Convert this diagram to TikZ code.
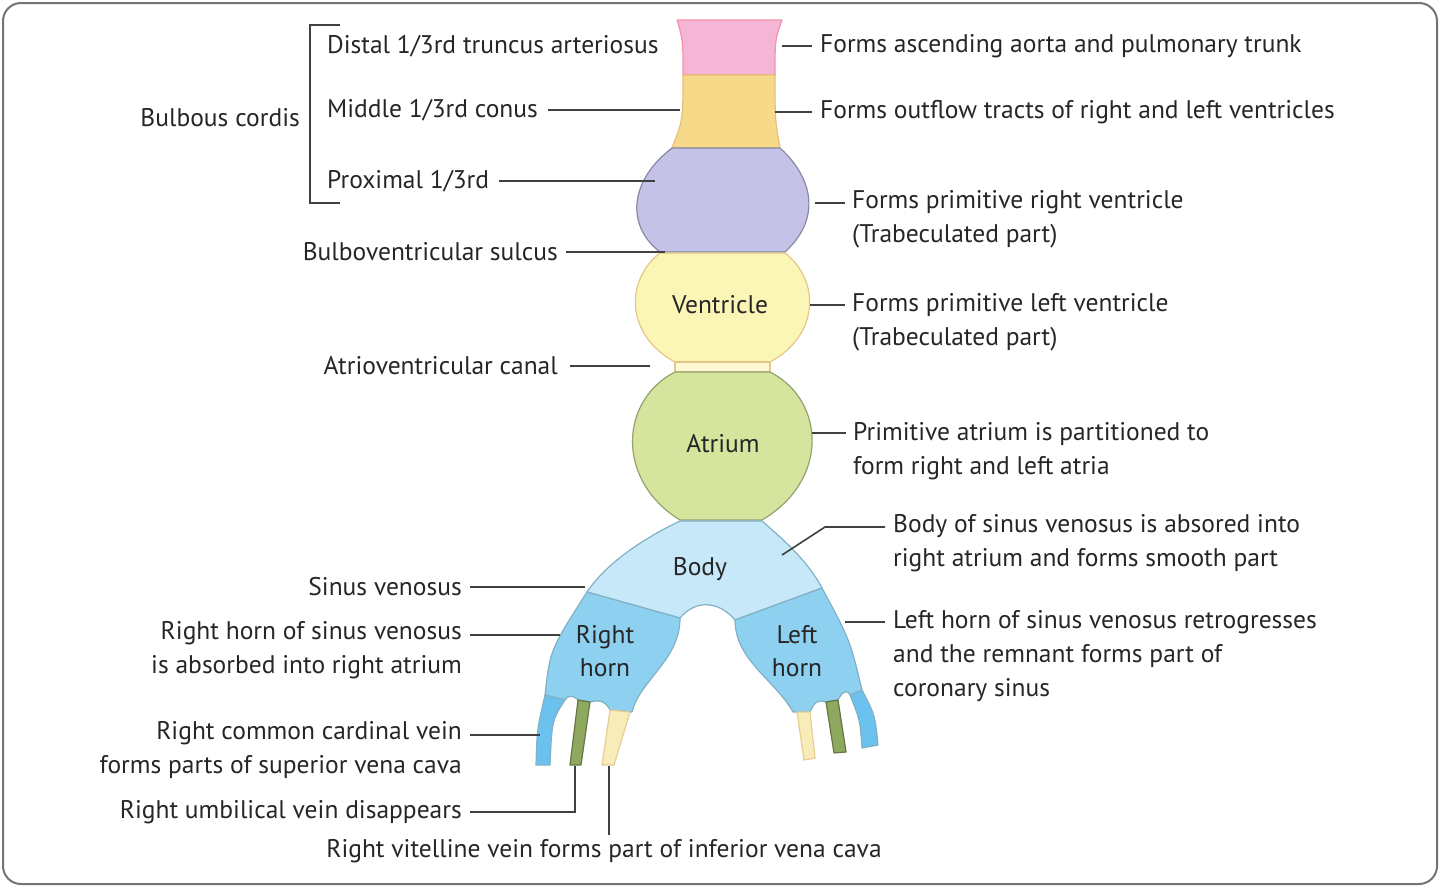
\documentclass[tikz,border=0pt]{standalone}
\usepackage{fontspec}
\setmainfont{PT Sans}
\definecolor{cpink}{HTML}{F5B5D5}
\definecolor{cyel}{HTML}{F6DA8A}
\definecolor{cpur}{HTML}{C5C2E8}
\definecolor{cven}{HTML}{FCF6B6}
\definecolor{catr}{HTML}{D5E59E}
\definecolor{cbody}{HTML}{C6E8F8}
\definecolor{chorn}{HTML}{8ED0F0}
\definecolor{chorn2}{HTML}{6CC2EE}
\definecolor{cgrn}{HTML}{8FA860}
\definecolor{cvit}{HTML}{F8EDB8}
\begin{document}
\begin{tikzpicture}[x=1pt,y=-1pt,
 lbl/.style={font=\fontsize{25.5}{34}\selectfont,inner sep=0pt,text=black!85},
 ld/.style={draw=black!75,line width=1.6pt},
 sh/.style={line width=1.2pt,line join=round}]
\useasboundingbox (0,0) rectangle (1440,887);
\draw[black!55,line width=2pt,rounded corners=18pt] (3,3) rectangle (1437,884);
% truncus
\draw[sh,draw=cpink!80!red,fill=cpink] (677,20)--(782,20) .. controls (775,40) .. (775,75) -- (683,75) .. controls (683,40) .. (677,20)--cycle;
\draw[sh,draw=cyel!70!brown,fill=cyel] (683,75)--(775,75) .. controls (775,120) .. (780,148) -- (672,148) .. controls (683,120) .. (683,75)--cycle;
\draw[sh,draw=cpur!70!black,fill=cpur] (672,148)--(780,148) .. controls (815,180) and (820,220) .. (785,252) -- (660,252) .. controls (625,225) and (630,180) .. (672,148)--cycle;
\draw[sh,draw=cven!60!brown,fill=cven] (660,253)--(785,253) .. controls (820,280) and (820,335) .. (770,362) -- (675,362) .. controls (625,335) and (625,280) .. (660,253)--cycle;
\draw[sh,draw=cven!60!brown,fill=cven!60] (675,362) rectangle (770,372);
\draw[sh,draw=catr!70!black,fill=catr] (675,372)--(770,372) .. controls (825,400) and (830,480) .. (762,520) -- (680,520) .. controls (615,480) and (620,400) .. (675,372)--cycle;
% body
\draw[sh,draw=cyan!60!black!60,fill=cbody] (680,521)--(762,521) .. controls (790,545) and (810,565) .. (822,588) -- (735,620) .. controls (718,600) and (695,600) .. (680,618) -- (587,592) .. controls (605,565) and (640,540) .. (680,521)--cycle;
% right horn
\draw[sh,draw=cyan!60!black!60,fill=chorn] (587,592)--(680,618) .. controls (680,660) and (640,680) .. (632,712) -- (610,710) .. controls (605,700) and (598,700) .. (590,702) -- (578,700) .. controls (573,695) and (568,695) .. (565,700) -- (545,695) .. controls (550,650) .. (587,592)--cycle;
\draw[sh,draw=cyan!60!black!60,fill=chorn2] (545,695)--(565,700) .. controls (552,720) .. (550,765) -- (536,765) .. controls (537,730) .. (545,695)--cycle;
\draw[sh,draw=cgrn!70!black,fill=cgrn] (578,700)--(590,702)--(581,765)--(570,765)--cycle;
\draw[sh,draw=cvit!70!brown,fill=cvit] (610,710)--(630,712)--(614,765)--(602,765)--cycle;
% left horn
\draw[sh,draw=cyan!60!black!60,fill=chorn] (822,588)--(735,620) .. controls (735,660) and (775,680) .. (793,712) -- (810,712) .. controls (815,700) and (820,700) .. (826,702) -- (838,700) .. controls (843,690) and (848,690) .. (850,695) -- (862,690) .. controls (850,640) .. (822,588)--cycle;
\draw[sh,draw=cyan!60!black!60,fill=chorn2] (850,695)--(862,690) .. controls (875,715) .. (878,745) -- (862,748) .. controls (860,720) .. (850,695)--cycle;
\draw[sh,draw=cgrn!70!black,fill=cgrn] (826,702)--(838,700)--(846,752)--(834,753)--cycle;
\draw[sh,draw=cvit!70!brown,fill=cvit] (797,712)--(810,712)--(815,758)--(804,760)--cycle;
% inner labels
\node[lbl] (ven) at (720,305) {Ventricle};
\node[lbl] (atr) at (723,444) {Atrium};
\node[lbl] (bod) at (700,569) {Body};
\node[lbl,align=center,font=\fontsize{25.5}{33}\selectfont] (rh) at (605,651) {Right\\horn};
\node[lbl,align=center,font=\fontsize{25.5}{33}\selectfont] (lh) at (797,651) {Left\\horn};
% left labels
\node[lbl,anchor=west] (d) at (327,46) {Distal 1/3rd truncus arteriosus};
\node[lbl,anchor=west] (m) at (327,110) {Middle 1/3rd conus};
\node[lbl,anchor=west] (p) at (327,181) {Proximal 1/3rd};
\node[lbl,anchor=east] (bc) at (300,118) {Bulbous cordis};
\draw[ld] (340,25)--(310,25)--(310,203)--(340,203);
\draw[ld] (m.east)+(10,0) -- (680,110);
\draw[ld] (p.east)+(10,0) -- (655,181);
\node[lbl,anchor=east] (bv) at (558,252) {Bulboventricular sulcus};
\draw[ld] (bv.east)+(8,0) -- (665,252);
\node[lbl,anchor=east] (av) at (558,366) {Atrioventricular canal};
\draw[ld] (av.east)+(12,0) -- (650,366);
\node[lbl,anchor=east] (sv) at (462,587) {Sinus venosus};
\draw[ld] (470,587) -- (585,587);
\node[lbl,anchor=east,align=right] (rhs) at (462,650) {Right horn of sinus venosus\\is absorbed into right atrium};
\draw[ld] (470,635) -- (560,635);
\node[lbl,anchor=east,align=right] (rcc) at (462,750) {Right common cardinal vein\\forms parts of superior vena cava};
\draw[ld] (470,735) -- (540,735);
\node[lbl,anchor=east] (ru) at (462,812) {Right umbilical vein disappears};
\draw[ld] (470,812) -- (575,812) -- (575,766);
\node[lbl] (rv) at (604,851) {Right vitelline vein forms part of inferior vena cava};
\draw[ld] (609,835) -- (609,766);
% right labels
\node[lbl,anchor=west] (r1) at (820,46) {Forms ascending aorta and pulmonary trunk};
\draw[ld] (782,46) -- (812,46);
\node[lbl,anchor=west] (r2) at (820,112) {Forms outflow tracts of right and left ventricles};
\draw[ld] (775,112) -- (812,112);
\node[lbl,anchor=west,align=left] (r3) at (852,219) {Forms primitive right ventricle\\(Trabeculated part)};
\draw[ld] (815,203) -- (845,203);
\node[lbl,anchor=west,align=left] (r4) at (852,322) {Forms primitive left ventricle\\(Trabeculated part)};
\draw[ld] (810,305) -- (845,305);
\node[lbl,anchor=west,align=left] (r5) at (853,451) {Primitive atrium is partitioned to\\form right and left atria};
\draw[ld] (812,433) -- (846,433);
\node[lbl,anchor=west,align=left] (r6) at (893,543) {Body of sinus venosus is absored into\\right atrium and forms smooth part};
\draw[ld] (782,555) -- (825,527) -- (885,527);
\node[lbl,anchor=west,align=left] (r7) at (893,656) {Left horn of sinus venosus retrogresses\\and the remnant forms part of\\coronary sinus};
\draw[ld] (845,622) -- (885,622);
\end{tikzpicture}
\end{document}
